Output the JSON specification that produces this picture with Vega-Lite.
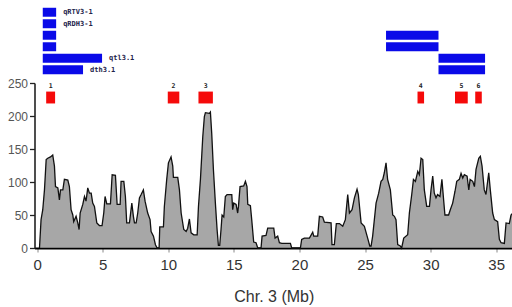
{
  "$schema": "https://vega.github.io/schema/vega-lite/v6.json",
  "background": "white",
  "padding": {"left": 6.5, "top": 6.5, "right": 0, "bottom": 0},
  "config": {"view": {"stroke": null}, "font": "Liberation Sans"},
  "spacing": 7.5,
  "bounds": "flush",
  "datasets": {
    "qtl": [
      {"row": 1, "start": 0.43, "end": 1.45, "label": "qRTV3-1"},
      {"row": 2, "start": 0.43, "end": 1.45, "label": "qRDH3-1"},
      {"row": 3, "start": 0.43, "end": 1.45, "label": ""},
      {"row": 4, "start": 0.43, "end": 1.45, "label": ""},
      {"row": 5, "start": 0.43, "end": 4.95, "label": "qtl3.1"},
      {"row": 6, "start": 0.43, "end": 3.5, "label": "dth3.1"},
      {"row": 3, "start": 26.6, "end": 30.6, "label": ""},
      {"row": 4, "start": 26.6, "end": 30.6, "label": ""},
      {"row": 5, "start": 30.6, "end": 34.15, "label": ""},
      {"row": 6, "start": 30.6, "end": 34.15, "label": ""}
    ],
    "peaks": [
      {"id": "1", "start": 0.69, "end": 1.37, "peak": 1.03},
      {"id": "2", "start": 9.96, "end": 10.84, "peak": 10.4},
      {"id": "3", "start": 12.3, "end": 13.4, "peak": 12.85},
      {"id": "4", "start": 29.0, "end": 29.5, "peak": 29.25},
      {"id": "5", "start": 31.86, "end": 32.83, "peak": 32.35},
      {"id": "6", "start": 33.4, "end": 33.9, "peak": 33.65}
    ],
    "profile": [
      {"mb": 0.18, "v": 0}, {"mb": 0.3, "v": 43}, {"mb": 0.43, "v": 58}, {"mb": 0.56, "v": 88},
      {"mb": 0.69, "v": 134}, {"mb": 0.81, "v": 136}, {"mb": 1.02, "v": 138}, {"mb": 1.19, "v": 141},
      {"mb": 1.32, "v": 124}, {"mb": 1.40, "v": 93}, {"mb": 1.58, "v": 91}, {"mb": 1.70, "v": 73},
      {"mb": 1.78, "v": 88}, {"mb": 1.96, "v": 88}, {"mb": 2.08, "v": 104}, {"mb": 2.34, "v": 103},
      {"mb": 2.46, "v": 93}, {"mb": 2.59, "v": 58}, {"mb": 2.72, "v": 50}, {"mb": 2.79, "v": 40},
      {"mb": 2.97, "v": 48}, {"mb": 3.10, "v": 38}, {"mb": 3.2, "v": 28}, {"mb": 3.28, "v": 53},
      {"mb": 3.48, "v": 66}, {"mb": 3.61, "v": 78}, {"mb": 3.73, "v": 71}, {"mb": 3.86, "v": 91},
      {"mb": 3.99, "v": 83}, {"mb": 4.12, "v": 83}, {"mb": 4.24, "v": 68}, {"mb": 4.37, "v": 63},
      {"mb": 4.55, "v": 38}, {"mb": 4.75, "v": 34}, {"mb": 4.95, "v": 34}, {"mb": 5.08, "v": 53},
      {"mb": 5.18, "v": 78}, {"mb": 5.31, "v": 67}, {"mb": 5.59, "v": 67}, {"mb": 5.72, "v": 111},
      {"mb": 5.97, "v": 110}, {"mb": 6.10, "v": 66}, {"mb": 6.33, "v": 66}, {"mb": 6.40, "v": 101},
      {"mb": 6.61, "v": 101}, {"mb": 6.73, "v": 78}, {"mb": 6.83, "v": 38}, {"mb": 7.04, "v": 38},
      {"mb": 7.22, "v": 68}, {"mb": 7.34, "v": 48}, {"mb": 7.42, "v": 38}, {"mb": 7.55, "v": 38},
      {"mb": 7.67, "v": 53}, {"mb": 7.80, "v": 76}, {"mb": 7.93, "v": 81}, {"mb": 8.10, "v": 88},
      {"mb": 8.23, "v": 71}, {"mb": 8.43, "v": 53}, {"mb": 8.61, "v": 43}, {"mb": 8.69, "v": 25},
      {"mb": 8.87, "v": 18}, {"mb": 9.02, "v": 5}, {"mb": 9.15, "v": 0}, {"mb": 9.30, "v": 0},
      {"mb": 9.35, "v": 32}, {"mb": 9.63, "v": 32}, {"mb": 9.7, "v": 63}, {"mb": 9.88, "v": 104},
      {"mb": 10.01, "v": 129}, {"mb": 10.21, "v": 138}, {"mb": 10.34, "v": 124}, {"mb": 10.39, "v": 107},
      {"mb": 10.72, "v": 107}, {"mb": 10.85, "v": 88}, {"mb": 10.98, "v": 53}, {"mb": 11.18, "v": 28},
      {"mb": 11.36, "v": 25}, {"mb": 11.48, "v": 30}, {"mb": 11.61, "v": 44}, {"mb": 11.74, "v": 23},
      {"mb": 11.94, "v": 20}, {"mb": 12.2, "v": 20}, {"mb": 12.3, "v": 63}, {"mb": 12.45, "v": 104},
      {"mb": 12.63, "v": 169}, {"mb": 12.75, "v": 199}, {"mb": 12.83, "v": 205}, {"mb": 13.13, "v": 204},
      {"mb": 13.21, "v": 206}, {"mb": 13.31, "v": 174}, {"mb": 13.44, "v": 119}, {"mb": 13.59, "v": 68},
      {"mb": 13.72, "v": 28}, {"mb": 13.82, "v": 4}, {"mb": 13.92, "v": 4}, {"mb": 14.02, "v": 28},
      {"mb": 14.1, "v": 50}, {"mb": 14.23, "v": 47}, {"mb": 14.35, "v": 78}, {"mb": 14.48, "v": 81},
      {"mb": 14.84, "v": 81}, {"mb": 14.91, "v": 58}, {"mb": 14.99, "v": 68}, {"mb": 15.17, "v": 66},
      {"mb": 15.29, "v": 53}, {"mb": 15.35, "v": 63}, {"mb": 15.47, "v": 93}, {"mb": 15.75, "v": 94},
      {"mb": 15.88, "v": 101}, {"mb": 16.0, "v": 93}, {"mb": 16.06, "v": 66}, {"mb": 16.26, "v": 64},
      {"mb": 16.36, "v": 43}, {"mb": 16.51, "v": 9}, {"mb": 16.69, "v": 8}, {"mb": 16.82, "v": 0},
      {"mb": 17.07, "v": 0}, {"mb": 17.15, "v": 18}, {"mb": 17.45, "v": 19}, {"mb": 17.58, "v": 30},
      {"mb": 18.04, "v": 30}, {"mb": 18.14, "v": 15}, {"mb": 18.34, "v": 18}, {"mb": 18.47, "v": 8},
      {"mb": 18.65, "v": 7}, {"mb": 19.31, "v": 7}, {"mb": 19.41, "v": 0}, {"mb": 20.07, "v": 0},
      {"mb": 20.17, "v": 13}, {"mb": 20.37, "v": 15}, {"mb": 20.76, "v": 15}, {"mb": 21.01, "v": 24},
      {"mb": 21.09, "v": 18}, {"mb": 21.39, "v": 18}, {"mb": 21.52, "v": 48}, {"mb": 21.77, "v": 47},
      {"mb": 21.90, "v": 39}, {"mb": 22.41, "v": 38}, {"mb": 22.48, "v": 5}, {"mb": 22.66, "v": 5},
      {"mb": 22.81, "v": 37}, {"mb": 23.05, "v": 37}, {"mb": 23.30, "v": 33}, {"mb": 23.50, "v": 43},
      {"mb": 23.68, "v": 81}, {"mb": 23.81, "v": 53}, {"mb": 24.01, "v": 58}, {"mb": 24.19, "v": 76},
      {"mb": 24.39, "v": 89}, {"mb": 24.49, "v": 81}, {"mb": 24.70, "v": 38}, {"mb": 24.95, "v": 33},
      {"mb": 25.20, "v": 15}, {"mb": 25.36, "v": 3}, {"mb": 25.46, "v": 3}, {"mb": 25.58, "v": 18},
      {"mb": 25.84, "v": 68}, {"mb": 26.04, "v": 83}, {"mb": 26.22, "v": 101}, {"mb": 26.35, "v": 104},
      {"mb": 26.47, "v": 114}, {"mb": 26.60, "v": 129}, {"mb": 26.72, "v": 104}, {"mb": 26.93, "v": 88},
      {"mb": 27.11, "v": 50}, {"mb": 27.24, "v": 48}, {"mb": 27.36, "v": 43}, {"mb": 27.49, "v": 5},
      {"mb": 27.69, "v": 3}, {"mb": 27.79, "v": 0}, {"mb": 27.95, "v": 15}, {"mb": 28.25, "v": 20},
      {"mb": 28.38, "v": 53}, {"mb": 28.56, "v": 81}, {"mb": 28.69, "v": 104}, {"mb": 28.84, "v": 101},
      {"mb": 29.02, "v": 116}, {"mb": 29.14, "v": 111}, {"mb": 29.27, "v": 136}, {"mb": 29.40, "v": 134},
      {"mb": 29.52, "v": 88}, {"mb": 29.70, "v": 63}, {"mb": 29.91, "v": 63}, {"mb": 30.03, "v": 88},
      {"mb": 30.16, "v": 109}, {"mb": 30.28, "v": 83}, {"mb": 30.41, "v": 76}, {"mb": 30.53, "v": 81},
      {"mb": 30.71, "v": 78}, {"mb": 30.86, "v": 104}, {"mb": 30.99, "v": 73}, {"mb": 31.09, "v": 50},
      {"mb": 31.37, "v": 50}, {"mb": 31.50, "v": 58}, {"mb": 31.68, "v": 68}, {"mb": 31.86, "v": 86},
      {"mb": 31.99, "v": 101}, {"mb": 32.19, "v": 104}, {"mb": 32.32, "v": 113}, {"mb": 32.45, "v": 106},
      {"mb": 32.57, "v": 111}, {"mb": 32.78, "v": 109}, {"mb": 32.91, "v": 88}, {"mb": 33.01, "v": 104},
      {"mb": 33.21, "v": 101}, {"mb": 33.34, "v": 93}, {"mb": 33.46, "v": 119}, {"mb": 33.67, "v": 136},
      {"mb": 33.79, "v": 139}, {"mb": 33.92, "v": 124}, {"mb": 34.09, "v": 88}, {"mb": 34.22, "v": 81},
      {"mb": 34.43, "v": 114}, {"mb": 34.55, "v": 88}, {"mb": 34.73, "v": 53}, {"mb": 34.86, "v": 43},
      {"mb": 35.11, "v": 40}, {"mb": 35.24, "v": 13}, {"mb": 35.37, "v": 8}, {"mb": 35.62, "v": 7},
      {"mb": 35.75, "v": 38}, {"mb": 36.0, "v": 37}, {"mb": 36.13, "v": 50}, {"mb": 36.28, "v": 53}
    ]
  },
  "vconcat": [
    {
      "width": 478.5,
      "height": 69,
      "data": {"name": "qtl"},
      "layer": [
        {
          "mark": {"type": "bar", "color": "#0a0ae8"},
          "encoding": {
            "x": {"field": "start", "type": "quantitative", "scale": {"domain": [-0.2, 36.28], "nice": false, "zero": false}, "axis": null},
            "x2": {"field": "end"},
            "y": {"field": "row", "type": "ordinal", "axis": null, "scale": {"paddingInner": 0.22, "paddingOuter": 0.11}}
          }
        },
        {
          "mark": {"type": "text", "align": "left", "baseline": "middle", "dx": 7, "fontSize": 7, "fontWeight": "bold", "font": "DejaVu Sans Mono", "color": "#22224a"},
          "encoding": {
            "x": {"field": "end", "type": "quantitative", "axis": null},
            "y": {"field": "row", "type": "ordinal", "axis": null},
            "text": {"field": "label"}
          }
        }
      ]
    },
    {
      "width": 478.5,
      "height": 165,
      "layer": [
        {
          "data": {"name": "profile"},
          "mark": {"type": "area", "color": "#828282", "line": {"color": "#111", "strokeWidth": 1.3}},
          "encoding": {
            "x": {
              "field": "mb", "type": "quantitative",
              "scale": {"domain": [-0.2, 36.28], "nice": false, "zero": false},
              "title": "Chr. 3 (Mb)",
              "axis": {
                "values": [0, 5, 10, 15, 20, 25, 30, 35],
                "grid": false,
                "domainColor": "black", "domainWidth": 2,
                "tickColor": "#888", "tickSize": 4,
                "labelFontSize": 15, "labelColor": "#333", "labelPadding": 5,
                "titleFontSize": 16, "titleFontWeight": "normal", "titleColor": "#333", "titlePadding": 16
              }
            },
            "y": {
              "field": "v", "type": "quantitative",
              "scale": {"domain": [0, 250], "nice": false},
              "title": null,
              "axis": {
                "values": [0, 50, 100, 150, 200, 250],
                "labelOverlap": false,
                "grid": false,
                "domainColor": "#222", "domainWidth": 1.6,
                "tickColor": "#222", "tickSize": 5, "tickWidth": 1.3,
                "labelFontSize": 12, "labelColor": "#555", "labelPadding": 2
              }
            }
          }
        },
        {
          "data": {"name": "peaks"},
          "mark": {"type": "rect", "color": "#f50a0a"},
          "encoding": {
            "x": {
              "field": "start", "type": "quantitative",
              "title": "Chr. 3 (Mb)",
              "axis": {
                "values": [0, 5, 10, 15, 20, 25, 30, 35],
                "grid": false,
                "domainColor": "black", "domainWidth": 2,
                "tickColor": "#888", "tickSize": 4,
                "labelFontSize": 15, "labelColor": "#333", "labelPadding": 5,
                "titleFontSize": 16, "titleFontWeight": "normal", "titleColor": "#333", "titlePadding": 16
              }
            },
            "x2": {"field": "end"},
            "y": {
              "datum": 219, "type": "quantitative",
              "title": null,
              "axis": {
                "values": [0, 50, 100, 150, 200, 250],
                "labelOverlap": false,
                "grid": false,
                "domainColor": "#222", "domainWidth": 1.6,
                "tickColor": "#222", "tickSize": 5, "tickWidth": 1.3,
                "labelFontSize": 12, "labelColor": "#555", "labelPadding": 2
              }
            },
            "y2": {"datum": 237}
          }
        },
        {
          "data": {"name": "peaks"},
          "mark": {"type": "text", "fontSize": 6.5, "fontWeight": "bold", "font": "DejaVu Sans Mono", "color": "#222"},
          "encoding": {
            "x": {
              "field": "peak", "type": "quantitative",
              "title": "Chr. 3 (Mb)",
              "axis": {
                "values": [0, 5, 10, 15, 20, 25, 30, 35],
                "grid": false,
                "domainColor": "black", "domainWidth": 2,
                "tickColor": "#888", "tickSize": 4,
                "labelFontSize": 15, "labelColor": "#333", "labelPadding": 5,
                "titleFontSize": 16, "titleFontWeight": "normal", "titleColor": "#333", "titlePadding": 16
              }
            },
            "y": {
              "datum": 245, "type": "quantitative",
              "title": null,
              "axis": {
                "values": [0, 50, 100, 150, 200, 250],
                "labelOverlap": false,
                "grid": false,
                "domainColor": "#222", "domainWidth": 1.6,
                "tickColor": "#222", "tickSize": 5, "tickWidth": 1.3,
                "labelFontSize": 12, "labelColor": "#555", "labelPadding": 2
              }
            },
            "text": {"field": "id"}
          }
        }
      ]
    }
  ]
}
